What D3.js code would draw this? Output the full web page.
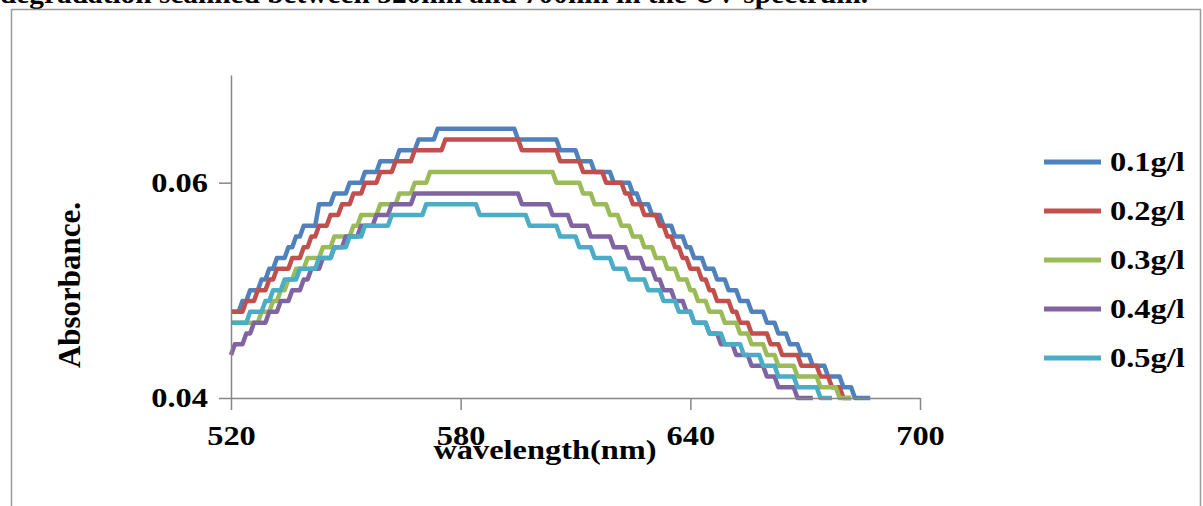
<!DOCTYPE html>
<html>
<head>
<meta charset="utf-8">
<script src="https://cdn.jsdelivr.net/npm/d3@7"></script>
<style>
  html, body { margin: 0; padding: 0; background: #fff; }
  svg { display: block; }
  text { font-family: "Liberation Serif", "Times New Roman", serif; font-weight: bold; fill: #000; }
</style>
</head>
<body>
<div id="chart"></div>
<script>
// absorbance readings, one per nm starting at 520 nm, in units of 0.001
const startNm = 520;
const conc01 = [48,48,48,49,49,50,50,50,51,51,52,52,53,53,53,54,54,55,55,56,56,56,56,58,58,58,58,59,59,59,59,60,60,60,60,61,61,61,61,62,62,62,62,62,63,63,63,63,63,64,64,64,64,64,
  65,65,65,65,65,65,65,65,65,65,65,65,65,65,65,65,65,65,65,65,65,
  64,64,64,64,64,64,64,64,64,64,64,
  63,63,63,63,63,62,62,62,62,61,61,61,61,61,60,60,60,60,60,59,59,58,58,58,57,57,57,56,56,56,55,55,55,54,54,53,53,53,52,52,52,51,51,51,50,50,50,49,49,49,48,48,48,48,47,47,47,46,46,46,45,45,45,44,44,44,43,43,43,43,42,42,42,42,41,41,41,40,40,40,40,40];
const conc02 = [48,48,48,48,49,49,49,50,50,50,51,51,52,52,52,52,53,53,53,54,54,55,55,56,56,56,57,57,57,58,58,58,59,59,59,60,60,60,60,61,61,61,61,62,62,62,62,62,63,63,63,63,63,63,63,63,
  64,64,64,64,64,64,64,64,64,64,64,64,64,64,64,64,64,64,64,64,
  63,63,63,63,63,63,63,63,63,63,62,62,62,62,62,62,61,61,61,61,61,61,60,60,60,60,60,59,59,58,58,58,57,57,57,57,56,56,55,55,54,54,53,53,52,52,52,51,51,50,50,49,49,49,49,48,48,47,47,47,46,46,46,46,46,45,45,45,44,44,44,44,44,43,43,43,43,43,42,42,42,41,41,41,40,40,40];
const conc03 = [47,47,47,47,47,47,47,47,48,48,48,49,49,50,50,51,51,52,52,52,53,53,53,53,54,54,54,55,55,55,55,55,56,56,57,57,57,57,57,58,58,58,58,58,59,59,59,59,60,60,60,60,
  61,61,61,61,61,61,61,61,61,61,61,61,61,61,61,61,61,61,61,61,61,61,61,61,61,61,61,61,61,61,61,61,61,
  60,60,60,60,60,60,60,59,59,59,58,58,58,58,57,57,57,56,56,56,55,55,55,54,54,54,53,53,53,52,52,52,51,51,51,50,50,49,49,49,48,48,48,48,47,47,47,47,46,46,46,45,45,45,45,44,44,44,43,43,43,43,43,42,42,42,42,42,42,41,41,41,41,41,40,40,40,40];
const conc04 = [44,45,45,45,46,46,47,47,47,47,48,48,48,49,49,49,50,50,50,51,51,52,52,52,53,53,53,54,54,54,55,55,55,55,56,56,56,56,57,57,57,57,58,58,58,58,58,58,
  59,59,59,59,59,59,59,59,59,59,59,59,59,59,59,59,59,59,59,59,59,59,59,59,59,59,59,59,
  58,58,58,58,58,58,58,58,57,57,57,57,57,56,56,56,56,56,55,55,55,55,55,55,54,54,54,54,53,53,53,53,52,52,52,51,51,50,50,50,49,49,49,48,48,47,47,47,47,46,46,46,45,45,45,45,44,44,44,44,43,43,43,43,42,42,42,41,41,41,41,41,40,40,40,40,40];
const conc05 = [47,47,47,47,47,48,48,48,48,49,49,50,50,50,51,51,51,51,52,52,52,52,52,53,53,53,53,54,54,54,54,55,55,55,55,56,56,56,56,56,56,56,57,57,57,57,57,57,57,57,57,
  58,58,58,58,58,58,58,58,58,58,58,58,58,58,
  57,57,57,57,57,57,57,57,57,57,57,57,57,56,56,56,56,56,56,56,56,55,55,55,55,55,54,54,54,54,53,53,53,53,53,52,52,52,52,51,51,51,51,51,50,50,50,50,49,49,49,49,48,48,48,48,47,47,47,47,46,46,46,46,45,45,45,45,45,44,44,44,44,44,43,43,43,43,42,42,42,42,42,41,41,41,41,41,41,40,40,40,40];

const seriesNames = ['0.1g/l', '0.2g/l', '0.3g/l', '0.4g/l', '0.5g/l'];
const seriesValues = [conc01, conc02, conc03, conc04, conc05];
const seriesColors = ['#4F81BD', '#C0504D', '#9BBB59', '#8064A2', '#4BACC6'];
const xTicks = [520, 580, 640, 700];
const yTicks = [0.04, 0.06];

const W = 1203, H = 506;
const svg = d3.select('#chart').append('svg').attr('width', W).attr('height', H);

// stretch text horizontally like the source picture
function stretch(sel, k) {
  sel.each(function () {
    const len = this.getComputedTextLength();
    d3.select(this).attr('textLength', len * k).attr('lengthAdjust', 'spacingAndGlyphs');
  });
}

// caption line cut at the top
svg.append('text').attr('x', 0).attr('y', 3)
  .style('font-size', '28px')
  .attr('textLength', 868).attr('lengthAdjust', 'spacingAndGlyphs')
  .text('degradation scanned between 520nm and 700nm in the UV spectrum.');

// frame
svg.append('rect').attr('x', 11.5).attr('y', 9.5).attr('width', 1189).attr('height', 530)
  .attr('fill', 'none').attr('stroke', '#9a9a9a').attr('stroke-width', 1.5);

const x = d3.scaleLinear().domain([520, 700]).range([231, 920]);
const y = d3.scaleLinear().domain([0.04, 0.07]).range([398, 75]);

// Lines
const line = d3.line().x((d, i) => x(startNm + i)).y(d => y(d / 1000));
const lines = svg.append('g');
seriesValues.forEach((vals, k) => {
  lines.append('path').datum(vals)
    .attr('fill', 'none').attr('stroke', seriesColors[k]).attr('stroke-width', 4.5)
    .attr('stroke-linejoin', 'round').attr('d', line);
});

// Axes
const xAxis = svg.append('g').attr('transform', `translate(0,${y(0.04)})`)
  .call(d3.axisBottom(x).tickValues(xTicks).tickSize(12).tickSizeOuter(0).tickPadding(16).tickFormat(d3.format('d')));
const yAxis = svg.append('g').attr('transform', `translate(${x(520)},0)`)
  .call(d3.axisLeft(y).tickValues(yTicks).tickSize(12).tickSizeOuter(0).tickPadding(11).tickFormat(d3.format('.2f')));
[xAxis, yAxis].forEach(a => {
  a.selectAll('.domain, .tick line').attr('stroke', '#868686').attr('stroke-width', 1.5);
  a.selectAll('text').style('font-size', '27px').style('font-family', null).attr('fill', '#000');
});
xAxis.selectAll('text').call(stretch, 1.2);
yAxis.selectAll('text').call(stretch, 1.2);

// Axis titles
svg.append('text').attr('x', 545).attr('y', 459).attr('text-anchor', 'middle')
  .style('font-size', '27px').text('wavelength(nm)').call(stretch, 1.2);
svg.append('text').attr('transform', 'translate(80,285) rotate(-90)').attr('text-anchor', 'middle')
  .style('font-size', '31px').text('Absorbance.');

// Legend
const ly = d3.scalePoint().domain(seriesNames).range([162, 358]);
const legend = svg.append('g');
seriesNames.forEach((name, k) => {
  legend.append('line').attr('x1', 1044).attr('x2', 1101).attr('y1', ly(name)).attr('y2', ly(name))
    .attr('stroke', seriesColors[k]).attr('stroke-width', 5);
  legend.append('text').attr('x', 1110).attr('y', ly(name)).attr('dy', '0.35em')
    .style('font-size', '27px').text(name).call(stretch, 1.2);
});
</script>
</body>
</html>
